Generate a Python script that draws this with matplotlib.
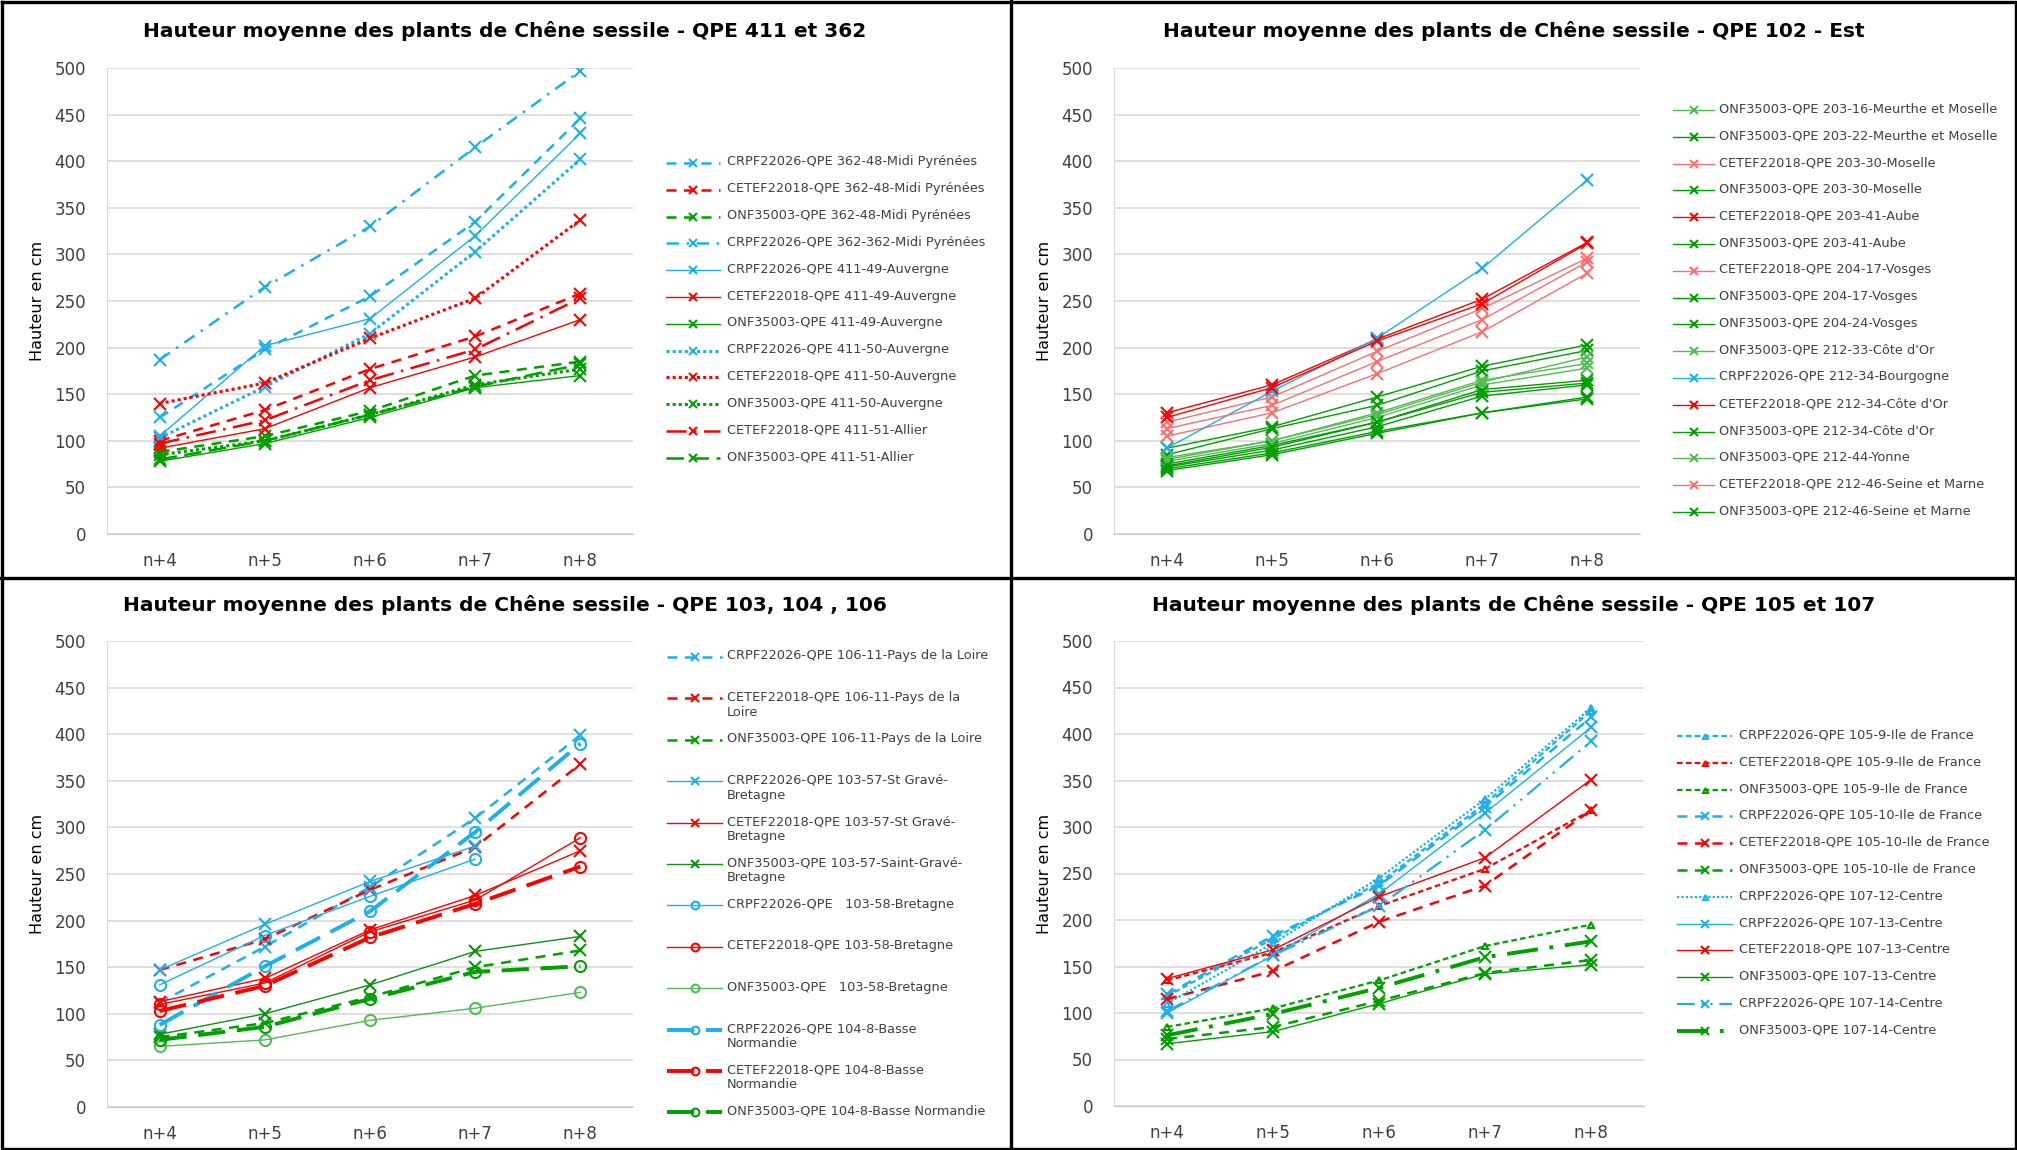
"""Hauteur moyenne des plants de Chêne sessile - four QPE panels."""

import numpy as np
import matplotlib.pyplot as plt
from matplotlib.lines import Line2D

W, H = 2017, 1150

X_LABELS = ["n+4", "n+5", "n+6", "n+7", "n+8"]
Y_TICKS = list(range(0, 501, 50))

BLUE = "#1CB0EE"
RED = "#FF0000"
LRED = "#FF6E6E"
GREEN = "#00A000"
LGREEN = "#55BB55"

# ---- panel 1 : QPE 411 et 362
P1_TITLE = "Hauteur moyenne des plants de Chêne sessile - QPE 411 et 362"
P1_LABELS = [
    "CRPF22026-QPE 362-48-Midi Pyrénées",
    "CETEF22018-QPE 362-48-Midi Pyrénées",
    "ONF35003-QPE 362-48-Midi Pyrénées",
    "CRPF22026-QPE 362-362-Midi Pyrénées",
    "CRPF22026-QPE 411-49-Auvergne",
    "CETEF22018-QPE 411-49-Auvergne",
    "ONF35003-QPE 411-49-Auvergne",
    "CRPF22026-QPE 411-50-Auvergne",
    "CETEF22018-QPE 411-50-Auvergne",
    "ONF35003-QPE 411-50-Auvergne",
    "CETEF22018-QPE 411-51-Allier",
    "ONF35003-QPE 411-51-Allier",
]
P1_VALUES = [
    [125, 198, 255, 335, 446],
    [100, 133, 177, 212, 258],
    [88, 105, 132, 170, 185],
    [187, 265, 330, 415, 497],
    [105, 202, 231, 320, 430],
    [92, 113, 157, 190, 230],
    [78, 97, 125, 157, 170],
    [103, 158, 215, 303, 402],
    [140, 162, 210, 253, 337],
    [85, 100, 128, 160, 177],
    [97, 122, 165, 198, 253],
    [80, 100, 128, 158, 182],
]

# ---- panel 2 : QPE 102 - Est
P2_TITLE = "Hauteur moyenne des plants de Chêne sessile - QPE 102 - Est"
P2_LABELS = [
    "ONF35003-QPE 203-16-Meurthe et Moselle",
    "ONF35003-QPE 203-22-Meurthe et Moselle",
    "CETEF22018-QPE 203-30-Moselle",
    "ONF35003-QPE 203-30-Moselle",
    "CETEF22018-QPE 203-41-Aube",
    "ONF35003-QPE 203-41-Aube",
    "CETEF22018-QPE 204-17-Vosges",
    "ONF35003-QPE 204-17-Vosges",
    "ONF35003-QPE 204-24-Vosges",
    "ONF35003-QPE 212-33-Côte d'Or",
    "CRPF22026-QPE 212-34-Bourgogne",
    "CETEF22018-QPE 212-34-Côte d'Or",
    "ONF35003-QPE 212-34-Côte d'Or",
    "ONF35003-QPE 212-44-Yonne",
    "CETEF22018-QPE 212-46-Seine et Marne",
    "ONF35003-QPE 212-46-Seine et Marne",
]
P2_VALUES = [
    [80, 100, 130, 165, 183],
    [92, 115, 147, 180, 203],
    [105, 130, 172, 217, 280],
    [75, 95, 120, 155, 165],
    [130, 160, 209, 252, 313],
    [70, 87, 110, 130, 145],
    [120, 147, 196, 242, 296],
    [85, 113, 138, 175, 197],
    [72, 90, 115, 148, 160],
    [78, 97, 125, 160, 178],
    [92, 153, 210, 285, 380],
    [125, 157, 207, 247, 312],
    [68, 85, 108, 130, 147],
    [82, 100, 128, 163, 190],
    [113, 138, 185, 230, 292],
    [73, 93, 120, 152, 162],
]

# ---- panel 3 : QPE 103, 104, 106
P3_TITLE = "Hauteur moyenne des plants de Chêne sessile - QPE 103, 104 , 106"
P3_LABELS = [
    "CRPF22026-QPE 106-11-Pays de la Loire",
    "CETEF22018-QPE 106-11-Pays de la\nLoire",
    "ONF35003-QPE 106-11-Pays de la Loire",
    "CRPF22026-QPE 103-57-St Gravé-\nBretagne",
    "CETEF22018-QPE 103-57-St Gravé-\nBretagne",
    "ONF35003-QPE 103-57-Saint-Gravé-\nBretagne",
    "CRPF22026-QPE   103-58-Bretagne",
    "CETEF22018-QPE 103-58-Bretagne",
    "ONF35003-QPE   103-58-Bretagne",
    "CRPF22026-QPE 104-8-Basse\nNormandie",
    "CETEF22018-QPE 104-8-Basse\nNormandie",
    "ONF35003-QPE 104-8-Basse Normandie",
]
P3_VALUES = [
    [112, 172, 236, 310, 399],
    [147, 180, 233, 279, 368],
    [75, 90, 118, 150, 168],
    [147, 196, 242, 280, np.nan],
    [113, 138, 190, 227, 275],
    [78, 100, 131, 167, 183],
    [131, 184, 226, 266, np.nan],
    [110, 133, 188, 222, 289],
    [65, 72, 93, 106, 123],
    [88, 151, 210, 295, 390],
    [103, 130, 182, 218, 258],
    [72, 86, 116, 145, 151],
]

# ---- panel 4 : QPE 105 et 107
P4_TITLE = "Hauteur moyenne des plants de Chêne sessile - QPE 105 et 107"
P4_LABELS = [
    "CRPF22026-QPE 105-9-Ile de France",
    "CETEF22018-QPE 105-9-Ile de France",
    "ONF35003-QPE 105-9-Ile de France",
    "CRPF22026-QPE 105-10-Ile de France",
    "CETEF22018-QPE 105-10-Ile de France",
    "ONF35003-QPE 105-10-Ile de France",
    "CRPF22026-QPE 107-12-Centre",
    "CRPF22026-QPE 107-13-Centre",
    "CETEF22018-QPE 107-13-Centre",
    "ONF35003-QPE 107-13-Centre",
    "CRPF22026-QPE 107-14-Centre",
    "ONF35003-QPE 107-14-Centre",
]
P4_VALUES = [
    [118, 180, 240, 325, 425],
    [135, 165, 215, 255, 318],
    [85, 105, 135, 172, 195],
    [120, 183, 237, 322, 418],
    [115, 145, 198, 237, 318],
    [72, 85, 113, 143, 157],
    [110, 175, 245, 330, 428],
    [100, 162, 228, 315, 407],
    [137, 168, 225, 267, 351],
    [67, 80, 110, 142, 152],
    [102, 162, 215, 297, 392],
    [76, 99, 127, 160, 177],
]

# line styles (color, dash, width, marker)
DASH = (0, (4, 3))
DDOT = (0, (5, 3, 1, 3))
LDDOT = (0, (8, 3, 1, 3))
LDASH = (0, (7, 3))
DOT = (0, (1, 1))
SDASH = (0, (2.5, 1.5))
LDD2 = (0, (8, 3, 1, 3, 1, 3))
SOLID = "-"

P1_STYLES = [
    (BLUE, DASH, 1.8, "x"), (RED, DASH, 1.8, "x"), (GREEN, DASH, 1.8, "x"),
    (BLUE, DDOT, 1.8, "x"),
    (BLUE, SOLID, 1.0, "x"), (RED, SOLID, 1.0, "x"), (GREEN, SOLID, 1.0, "x"),
    (BLUE, DOT, 2.2, "x"), (RED, DOT, 2.2, "x"), (GREEN, DOT, 2.2, "x"),
    (RED, LDDOT, 1.8, "x"), (GREEN, LDASH, 1.8, "x"),
]
P2_STYLES = [
    (LGREEN, SOLID, 1.0, "x"), (GREEN, SOLID, 1.0, "x"), (LRED, SOLID, 1.0, "x"),
    (GREEN, SOLID, 1.0, "x"), (RED, SOLID, 1.0, "x"), (GREEN, SOLID, 1.0, "x"),
    (LRED, SOLID, 1.0, "x"), (GREEN, SOLID, 1.0, "x"), (GREEN, SOLID, 1.0, "x"),
    (LGREEN, SOLID, 1.0, "x"), (BLUE, SOLID, 1.0, "x"), (RED, SOLID, 1.0, "x"),
    (GREEN, SOLID, 1.0, "x"), (LGREEN, SOLID, 1.0, "x"), (LRED, SOLID, 1.0, "x"),
    (GREEN, SOLID, 1.0, "x"),
]
P3_STYLES = [
    (BLUE, DASH, 1.8, "x"), (RED, DASH, 1.8, "x"), (GREEN, DASH, 1.8, "x"),
    (BLUE, SOLID, 1.0, "x"), (RED, SOLID, 1.0, "x"), ("#109010", SOLID, 1.0, "x"),
    (BLUE, SOLID, 1.0, "o"), (RED, SOLID, 1.0, "o"), (LGREEN, SOLID, 1.0, "o"),
    (BLUE, LDASH, 2.8, "o"), (RED, LDASH, 2.8, "o"), (GREEN, LDASH, 2.8, "o"),
]
P4_STYLES = [
    (BLUE, SDASH, 1.6, "^"), (RED, SDASH, 1.6, "^"), (GREEN, SDASH, 1.6, "^"),
    (BLUE, DASH, 1.8, "x"), (RED, DASH, 1.8, "x"), (GREEN, DASH, 1.8, "x"),
    (BLUE, DOT, 1.6, "^"),
    (BLUE, SOLID, 1.0, "x"), (RED, SOLID, 1.0, "x"), (GREEN, SOLID, 1.0, "x"),
    (BLUE, LDD2, 1.6, "x"), (GREEN, LDDOT, 2.8, "x"),
]

# pixel layout: plot box (l, t, r, b), title centre, legend (line x0, x1, text x, first y, step)
PANELS = [
    (P1_TITLE, P1_LABELS, P1_VALUES, P1_STYLES,
     (107, 68, 633, 534), (505, 31), (666, 720, 727, 163, 26.8)),
    (P2_TITLE, P2_LABELS, P2_VALUES, P2_STYLES,
     (1114, 68, 1640, 534), (1514, 31), (1673, 1714, 1719, 110, 26.8)),
    (P3_TITLE, P3_LABELS, P3_VALUES, P3_STYLES,
     (107, 641, 633, 1107), (505, 605), (667, 722, 727, 657, 41.4)),
    (P4_TITLE, P4_LABELS, P4_VALUES, P4_STYLES,
     (1114, 641, 1644, 1106), (1514, 605), (1677, 1732, 1739, 736, 26.8)),
]

plt.rcParams["font.family"] = ["DejaVu Sans"]


def fx(px):
    return px / W


def fy(py):
    return 1 - py / H


def marker_kw(marker, color, lw):
    size = {"x": 8, "o": 8, "^": 5}[marker]
    return dict(marker=marker, markersize=size, markeredgecolor=color,
                markerfacecolor="none", markeredgewidth=1.5)


fig = plt.figure(figsize=(W / 100, H / 100), dpi=100)

for title, labels, values, styles, box, tpos, leg in PANELS:
    l, t, r, b = box
    ax = fig.add_axes([fx(l), fy(b), fx(r - l), (b - t) / H])
    x = np.arange(len(X_LABELS))
    for vals, (color, ls, lw, mk) in zip(values, styles):
        ax.plot(x, vals, color=color, linestyle=ls, linewidth=lw,
                **marker_kw(mk, color, lw))
    ax.set_xlim(-0.5, len(X_LABELS) - 0.5)
    ax.set_ylim(0, 500)
    ax.set_yticks(Y_TICKS)
    ax.set_xticks(x)
    ax.set_xticklabels(X_LABELS)
    ax.tick_params(length=0, labelsize=12, labelcolor="#404040")
    ax.tick_params(axis="y", pad=15)
    ax.tick_params(axis="x", pad=13)
    ax.grid(axis="y", color="#d9d9d9", linewidth=1.2)
    ax.set_axisbelow(True)
    for side in ("top", "right"):
        ax.spines[side].set_visible(False)
    ax.spines["left"].set_color("#d9d9d9")
    ax.spines["bottom"].set_color("#c8c8c8")
    ax.set_ylabel("Hauteur en cm", fontsize=11.5, labelpad=7)

    fig.text(fx(tpos[0]), fy(tpos[1]), title, ha="center", va="center",
             fontsize=14.5, fontweight="bold")

    x0, x1, xt, y0, step = leg
    for i, (lab, (color, ls, lw, mk)) in enumerate(zip(labels, styles)):
        yy = y0 + i * step
        fig.add_artist(Line2D([fx(x0), fx(x1)], [fy(yy), fy(yy)],
                              transform=fig.transFigure, color=color,
                              linestyle=ls, linewidth=lw))
        kw = marker_kw(mk, color, lw)
        kw["markersize"] = kw["markersize"] * 0.7
        fig.add_artist(Line2D([fx((x0 + x1) / 2)], [fy(yy)],
                              transform=fig.transFigure, linestyle="none", **kw))
        fig.text(fx(xt), fy(yy - 7.5), lab, ha="left", va="top", fontsize=9.3,
                 color="#404040", linespacing=1.2)

# panel frames
frame = dict(transform=fig.transFigure, color="black", linewidth=2.4)
fig.add_artist(Line2D([fx(1.5), fx(2015.5), fx(2015.5), fx(1.5), fx(1.5)],
                      [fy(1.5), fy(1.5), fy(1148.5), fy(1148.5), fy(1.5)], **frame))
fig.add_artist(Line2D([fx(1011), fx(1011)], [fy(0), fy(H)], **frame))
fig.add_artist(Line2D([fx(0), fx(W)], [fy(578), fy(578)], **frame))

fig.savefig("out.png", dpi=100, facecolor="white")
